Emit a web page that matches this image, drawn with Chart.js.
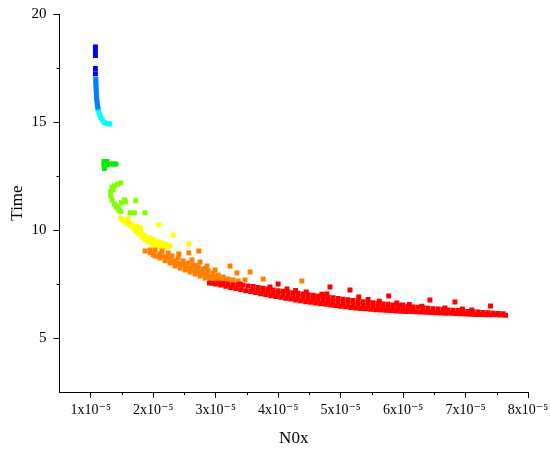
<!DOCTYPE html>
<html>
<head>
<meta charset="utf-8">
<title>NOx vs Time</title>
<script src="https://cdn.jsdelivr.net/npm/chart.js@4.4.1/dist/chart.umd.min.js"></script>
<style>
  html, body { margin: 0; padding: 0; background: #fff; }
  canvas { display: block; }
</style>
</head>
<body>
<canvas id="chart" width="550" height="450"></canvas>
<script>
// NOx values are in units of 1e-5
const NOX_UNIT_LABEL = 'x10\u207B\u2075';

const noxTicks = [1, 2, 3, 4, 5, 6, 7, 8];
const noxMinorTicks = [1.5, 2.5, 3.5, 4.5, 5.5, 6.5, 7.5];
const timeTicks = [5, 10, 15, 20];
const timeMinorTicks = [7.5, 12.5, 17.5];

// points grouped by colour band, longest times first
const blueNox = [1.075, 1.075, 1.075, 1.075, 1.075];
const blueTime = [18.47, 18.27, 18.08, 17.48, 17.24];

const azureNox = [1.080, 1.082, 1.084, 1.086, 1.088, 1.091, 1.094, 1.098, 1.103, 1.109, 1.117];
const azureTime = [16.99, 16.85, 16.71, 16.57, 16.44, 16.30, 16.16, 16.02, 15.88, 15.74, 15.62];

const cyanNox = [1.131, 1.147, 1.163, 1.187, 1.219, 1.259, 1.283, 1.307];
const cyanTime = [15.46, 15.32, 15.19, 15.08, 14.98, 14.93, 14.92, 14.91];

const greenNox = [1.211, 1.259, 1.211, 1.259, 1.219, 1.323, 1.371, 1.403];
const greenTime = [13.17, 13.17, 13.01, 13.03, 12.85, 13.06, 13.06, 13.06];

const limeNox = [1.48, 1.43, 1.38, 1.34, 1.32, 1.32, 1.34, 1.38, 1.41, 1.45, 1.48,
  1.49, 1.54, 1.56, 1.63, 1.70, 1.72, 1.87, 1.36, 1.44];
const limeTime = [12.18, 12.12, 12.05, 11.98, 11.77, 11.57, 11.39, 11.20, 11.05, 10.93, 10.85,
  11.26, 11.39, 11.31, 10.80, 10.80, 11.36, 10.80, 11.86, 11.12];

const yellowNox = [1.48, 1.53, 1.58, 1.63, 1.68, 1.72, 1.77, 1.82, 1.87, 1.92, 1.98, 2.04, 2.11, 2.17,
  1.60, 1.66, 1.74, 1.80, 1.87, 1.95, 2.01, 2.08, 2.14, 2.20, 2.27,
  2.09, 2.32, 2.57,
  1.51, 1.56, 1.62, 1.70, 1.75, 1.79, 1.84, 1.90, 1.96, 2.02, 2.06, 2.12, 2.23];
const yellowTime = [10.55, 10.42, 10.32, 10.19, 10.09, 9.95, 9.81, 9.68, 9.54, 9.44, 9.35, 9.26, 9.21, 9.17,
  10.51, 10.28, 10.19, 10.09, 9.72, 9.63, 9.54, 9.44, 9.40, 9.35, 9.26,
  10.23, 9.77, 9.35,
  10.48, 10.40, 10.30, 10.12, 9.95, 9.88, 9.78, 9.60, 9.50, 9.42, 9.33, 9.30, 9.24];

const orangeNox = [1.87, 1.95, 2.03, 2.11, 2.19, 2.27, 2.35, 2.43, 2.51, 2.59, 2.67, 2.75, 2.83, 2.91, 2.99,
  1.95, 2.03, 2.14, 2.24, 2.30, 2.40, 2.48, 2.56, 2.64, 2.72, 2.80, 2.88, 2.96, 3.04, 3.12, 3.20, 3.28, 3.36,
  2.11, 2.22, 2.35, 2.46, 2.59, 2.70, 2.81, 2.94, 3.07,
  2.41, 2.57, 2.73, 2.62, 2.75, 2.86, 2.99, 3.23, 3.55, 3.76, 4.38, 3.34, 3.47,
  2.00, 2.07, 2.15, 2.27, 2.31, 2.39, 2.43, 2.52, 2.55, 2.63, 2.67, 2.76, 2.78, 2.86, 2.90,
  2.98, 3.02, 3.15, 3.10, 2.50, 2.68, 2.84];
const orangeTime = [9.03, 8.94, 8.80, 8.70, 8.57, 8.47, 8.33, 8.24, 8.15, 8.06, 7.96, 7.87, 7.78, 7.69, 7.64,
  9.07, 9.07, 9.03, 8.94, 8.80, 8.70, 8.57, 8.47, 8.38, 8.29, 8.19, 8.10, 8.01, 7.92, 7.82, 7.73, 7.69, 7.64,
  8.89, 8.75, 8.57, 8.43, 8.24, 8.10, 7.96, 7.82, 7.73,
  8.89, 8.94, 9.03, 8.61, 8.52, 8.33, 8.15, 8.33, 8.06, 7.73, 7.64, 8.01, 7.69,
  8.86, 8.80, 8.79, 8.65, 8.55, 8.45, 8.38, 8.33, 8.22, 8.17, 8.12, 8.05, 7.99, 7.93, 7.85,
  7.77, 7.80, 7.66, 7.62, 8.40, 8.36, 8.22];

const redNox = [
  // lower edge
  2.90, 3.00, 3.08, 3.16, 3.24, 3.32, 3.40, 3.48, 3.56, 3.64, 3.72, 3.80, 3.88, 3.96, 4.04, 4.12, 4.20, 4.28,
  4.36, 4.44, 4.52, 4.60, 4.68, 4.76, 4.84, 4.92, 5.00, 5.08, 5.16, 5.24, 5.32, 5.40, 5.48, 5.56,
  5.64, 5.72, 5.80, 5.88, 5.96, 6.04, 6.12, 6.20, 6.28, 6.36, 6.44, 6.52, 6.60, 6.68, 6.76, 6.84,
  6.92, 7.00, 7.08, 7.16, 7.24, 7.32, 7.40, 7.48, 7.56, 7.64,
  // upper edge
  2.95, 3.04, 3.12, 3.20, 3.28, 3.36, 3.44, 3.52, 3.60, 3.68, 3.76, 3.84, 3.92, 4.00, 4.08, 4.16, 4.24,
  4.32, 4.40, 4.48, 4.56, 4.64, 4.72, 4.80, 4.88, 4.96, 5.04, 5.12, 5.20, 5.28, 5.36, 5.44, 5.52,
  5.60, 5.68, 5.76, 5.84, 5.92, 6.00, 6.08, 6.16, 6.24, 6.32, 6.40, 6.48, 6.56, 6.64, 6.72, 6.80,
  6.88, 6.96, 7.04, 7.12, 7.20, 7.28, 7.36, 7.44, 7.52, 7.60,
  // middle
  3.60, 3.68, 3.76, 3.84, 3.92, 4.00, 4.08, 4.16, 4.24, 4.32, 4.40, 4.48, 4.56, 4.64, 4.72, 4.80, 4.88,
  4.96, 5.04, 5.12, 5.20, 5.28, 5.36, 5.44, 5.52, 5.60, 5.68, 5.76, 5.84, 5.92, 6.00, 6.08, 6.16,
  // scattered above the band
  4.00, 4.14, 3.87, 4.62, 4.83, 4.78, 5.15, 5.29, 5.77, 5.99, 6.43, 6.83, 6.67, 7.40, 3.39,
  4.28, 4.45, 5.62, 5.90, 6.10, 6.30, 6.95, 7.10, 5.44, 4.70
];
const redTime = [
  7.54, 7.50, 7.45, 7.39, 7.34, 7.29, 7.24, 7.19, 7.15, 7.10, 7.05, 7.01, 6.96, 6.92, 6.88, 6.84, 6.80, 6.76,
  6.72, 6.68, 6.65, 6.62, 6.59, 6.56, 6.53, 6.50, 6.47, 6.44, 6.41, 6.39, 6.37, 6.35, 6.33, 6.31,
  6.30, 6.28, 6.27, 6.25, 6.24, 6.23, 6.22, 6.21, 6.20, 6.19, 6.18, 6.17, 6.16, 6.15, 6.14, 6.13,
  6.12, 6.11, 6.10, 6.09, 6.09, 6.08, 6.07, 6.07, 6.06, 6.05,
  7.53, 7.54, 7.52, 7.50, 7.47, 7.46, 7.44, 7.41, 7.38, 7.34, 7.30, 7.27, 7.22, 7.19, 7.16, 7.13, 7.10,
  7.07, 7.04, 7.00, 6.98, 6.95, 6.92, 6.89, 6.86, 6.83, 6.80, 6.77, 6.74, 6.71, 6.68, 6.65, 6.63,
  6.61, 6.58, 6.56, 6.53, 6.51, 6.49, 6.46, 6.44, 6.42, 6.40, 6.38, 6.36, 6.34, 6.32, 6.30, 6.29,
  6.27, 6.25, 6.23, 6.22, 6.20, 6.18, 6.17, 6.15, 6.14, 6.12,
  7.27, 7.22, 7.18, 7.14, 7.09, 7.05, 7.02, 6.98, 6.95, 6.91, 6.88, 6.84, 6.81, 6.78, 6.75, 6.72, 6.69,
  6.66, 6.63, 6.60, 6.57, 6.55, 6.52, 6.50, 6.48, 6.46, 6.43, 6.41, 6.39, 6.37, 6.36, 6.34, 6.32,
  7.50, 7.27, 7.36, 6.90, 7.36, 7.04, 7.22, 6.90, 6.94, 6.53, 6.76, 6.67, 6.39, 6.48, 7.50,
  7.20, 7.13, 6.70, 6.62, 6.55, 6.47, 6.34, 6.30, 6.78, 7.03
];

const bands = [
  { nox: redNox, time: redTime, color: '#ff0000' },
  { nox: orangeNox, time: orangeTime, color: '#ff8000' },
  { nox: yellowNox, time: yellowTime, color: '#ffff00' },
  { nox: limeNox, time: limeTime, color: '#80ff00' },
  { nox: greenNox, time: greenTime, color: '#00ee00' },
  { nox: cyanNox, time: cyanTime, color: '#00ffff' },
  { nox: azureNox, time: azureTime, color: '#0080ff' },
  { nox: blueNox, time: blueTime, color: '#0000ff' }
];

const serif = "'Liberation Serif', 'Times New Roman', 'DejaVu Serif', serif";

// short unlabelled ticks between the major ones
const minorTicks = {
  id: 'minorTicks',
  afterDraw(chart) {
    const { ctx, scales: { x, y } } = chart;
    ctx.save();
    ctx.strokeStyle = '#000';
    ctx.lineWidth = 1;
    ctx.beginPath();
    noxMinorTicks.forEach(v => {
      const px = Math.round(x.getPixelForValue(v)) + 0.5;
      ctx.moveTo(px, x.top);
      ctx.lineTo(px, x.top + 3);
    });
    timeMinorTicks.forEach(v => {
      const py = Math.round(y.getPixelForValue(v)) + 0.5;
      ctx.moveTo(y.right, py);
      ctx.lineTo(y.right - 3, py);
    });
    ctx.stroke();
    ctx.restore();
  }
};

const ctx = document.getElementById('chart').getContext('2d');
new Chart(ctx, {
  type: 'scatter',
  data: {
    datasets: bands.map(b => ({
      data: b.nox.map((v, i) => ({ x: v, y: b.time[i] })),
      backgroundColor: b.color,
      borderWidth: 0,
      pointStyle: 'rect',
      pointRadius: 3.5
    }))
  },
  options: {
    responsive: false,
    animation: false,
    events: [],
    layout: { padding: { top: 14, right: 22, left: 0, bottom: 0 } },
    plugins: {
      legend: { display: false },
      tooltip: { enabled: false }
    },
    scales: {
      x: {
        type: 'linear',
        min: 0.5,
        max: 8,
        afterBuildTicks: s => { s.ticks = noxTicks.map(v => ({ value: v })); },
        afterFit: s => { s.height = 58; s.paddingLeft = 0; s.paddingRight = 0; },
        border: { display: true, color: '#000', width: 1 },
        grid: { drawOnChartArea: false, drawTicks: true, tickLength: 6, color: '#000' },
        ticks: {
          color: '#000',
          font: { family: serif, size: 14 },
          padding: 4,
          maxRotation: 0,
          autoSkip: false,
          callback: v => v + NOX_UNIT_LABEL
        },
        title: {
          display: true,
          text: 'N0x',
          color: '#000',
          font: { family: serif, size: 17 },
          padding: { top: 0, bottom: 1 }
        }
      },
      y: {
        type: 'linear',
        min: 2.5,
        max: 20,
        afterBuildTicks: s => { s.ticks = timeTicks.map(v => ({ value: v })); },
        afterFit: s => { s.width = 59.5; s.paddingTop = 0; s.paddingBottom = 0; },
        border: { display: true, color: '#000', width: 1 },
        grid: { drawOnChartArea: false, drawTicks: true, tickLength: 6, color: '#000' },
        ticks: {
          color: '#000',
          font: { family: serif, size: 15 },
          padding: 7
        },
        title: {
          display: true,
          text: 'Time',
          color: '#000',
          font: { family: serif, size: 17 },
          padding: { top: 7, bottom: 0 }
        }
      }
    }
  },
  plugins: [minorTicks]
});
</script>
</body>
</html>
